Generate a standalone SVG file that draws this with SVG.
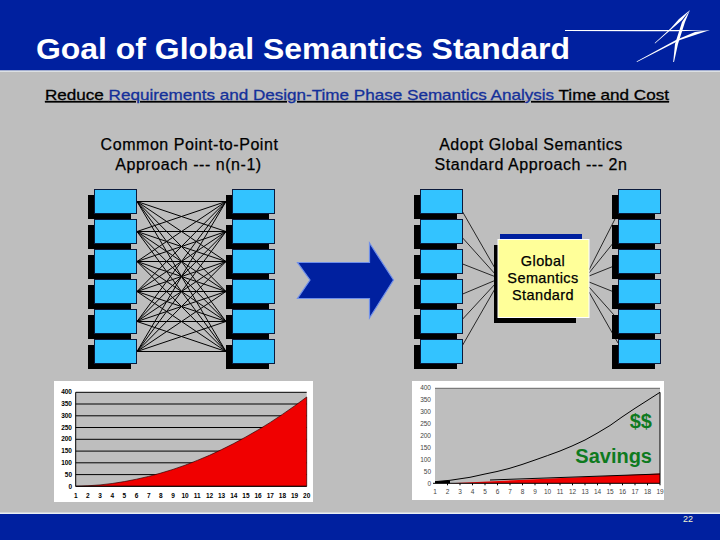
<svg xmlns="http://www.w3.org/2000/svg" width="720" height="540" viewBox="0 0 720 540">
<style>
text{font-family:"Liberation Sans",Arial,sans-serif}
.box{fill:#33C3FF;stroke:#0A1A3C;stroke-width:1}
.sh{fill:#000}
.c{stroke:#000;stroke-width:1;fill:none}
.hubl{stroke:#000;stroke-width:.8;fill:none}
.g{stroke:#000;stroke-width:1}
.h{font-size:16px;letter-spacing:.55px;fill:#000;text-anchor:middle;stroke:#000;stroke-width:.25}
.s{font-size:14.500px;letter-spacing:.4px;fill:#000;text-anchor:middle;stroke:#000;stroke-width:.25}
.t{font-size:6.5px;font-weight:bold;fill:#000;text-anchor:middle}
.y{font-size:6.5px;font-weight:bold;fill:#000;text-anchor:end}
.t2{font-size:6.5px;fill:#444;text-anchor:middle}
.y2{font-size:6.5px;fill:#444;text-anchor:end}
.sv{font-weight:bold;font-size:20px;fill:#0E7A1E;text-anchor:end}
</style>
<defs>
<g id="b"><rect class="sh" x="-6.500" y="5.500" width="43" height="24"/><rect class="box" x="0" y="0" width="42" height="24"/></g>
</defs>
<rect width="720" height="540" fill="#BEBEBE"/>
<rect width="720" height="70.500" fill="#00209F"/>
<rect y="70.500" width="720" height="1.200" fill="#E8EEF4"/>
<rect y="512.500" width="720" height="1.500" fill="#E8EEF4"/>
<rect y="514" width="720" height="26" fill="#00209F"/>
<text x="36" y="59" font-size="30" font-weight="bold" fill="#fff" textLength="534" lengthAdjust="spacingAndGlyphs">Goal of Global Semantics Standard</text>
<g id="logo" fill="#fff">
<polygon points="565,30 640,30 710,30 680,31.200 640,31.200 565,31"/>
<polygon points="690,10 682,20 655,43.500 654.700,43 671,28 679,19"/>
<polygon points="690,10 685,22 678,44 674,62 673.200,62 675,44 682,22"/>
<polygon points="710,30 680,40 637,62 636.500,61.400 676,40 695,32"/>
</g>
<text x="45" y="100" font-size="15" stroke="#000" stroke-width=".3" text-decoration="underline" textLength="624" lengthAdjust="spacingAndGlyphs">Reduce <tspan fill="#14309A" stroke="#14309A">Requirements and Design-Time Phase Semantics Analysis</tspan> Time and Cost</text>
<text class="h" x="189.500" y="150">Common Point-to-Point</text>
<text class="h" x="188.500" y="170">Approach --- n(n-1)</text>
<text class="h" x="531" y="150">Adopt Global Semantics</text>
<text class="h" x="531" y="170">Standard Approach --- 2n</text>

<g id="connectors">
<g id="mesh" class="c">
<path d="M137 201.500L226 201.500M137 201.500L226 231.500M137 201.500L226 261.500M137 201.500L226 291.500M137 201.500L226 321.500M137 201.500L226 351.500"/>
<path d="M137 231.500L226 201.500M137 231.500L226 231.500M137 231.500L226 261.500M137 231.500L226 291.500M137 231.500L226 321.500M137 231.500L226 351.500"/>
<path d="M137 261.500L226 201.500M137 261.500L226 231.500M137 261.500L226 261.500M137 261.500L226 291.500M137 261.500L226 321.500M137 261.500L226 351.500"/>
<path d="M137 291.500L226 201.500M137 291.500L226 231.500M137 291.500L226 261.500M137 291.500L226 291.500M137 291.500L226 321.500M137 291.500L226 351.500"/>
<path d="M137 321.500L226 201.500M137 321.500L226 231.500M137 321.500L226 261.500M137 321.500L226 291.500M137 321.500L226 321.500M137 321.500L226 351.500"/>
<path d="M137 351.500L226 201.500M137 351.500L226 231.500M137 351.500L226 261.500M137 351.500L226 291.500M137 351.500L226 321.500M137 351.500L226 351.500"/>
</g>
<g id="hub" class="hubl">
<path d="M462.700 212L496 270M462.700 238L496 275M462.700 264L496 277M462.700 294L496 280M462.700 319L496 283M462.700 345L496 287"/>
<path d="M589 270L615 219M589 273L614 242M589 276L614 266M589 282L614 292M589 287L614 315M589 292L618 343"/>
</g>
</g>

<g id="left-a"><use href="#b" x="94.500" y="189.500"/><use href="#b" x="94.500" y="219.500"/><use href="#b" x="94.500" y="249.500"/><use href="#b" x="94.500" y="279.500"/><use href="#b" x="94.500" y="309.500"/><use href="#b" x="94.500" y="339.500"/></g>
<g id="left-b"><use href="#b" x="232.500" y="189.500"/><use href="#b" x="232.500" y="219.500"/><use href="#b" x="232.500" y="249.500"/><use href="#b" x="232.500" y="279.500"/><use href="#b" x="232.500" y="309.500"/><use href="#b" x="232.500" y="339.500"/></g>
<g id="right-a"><use href="#b" x="420.500" y="189.500"/><use href="#b" x="420.500" y="219.500"/><use href="#b" x="420.500" y="249.500"/><use href="#b" x="420.500" y="279.500"/><use href="#b" x="420.500" y="309.500"/><use href="#b" x="420.500" y="339.500"/></g>
<g id="right-b"><use href="#b" x="618.500" y="189.500"/><use href="#b" x="618.500" y="219.500"/><use href="#b" x="618.500" y="249.500"/><use href="#b" x="618.500" y="279.500"/><use href="#b" x="618.500" y="309.500"/><use href="#b" x="618.500" y="339.500"/></g>

<g id="arrow"><polygon points="297.500,262.500 369.500,262.500 369.500,243 393.500,280 369.500,318 369.500,298.500 297.500,298.500 310,280" fill="#00209F" stroke="#6F8FEA" stroke-width="1.200"/></g>

<g id="standard">
<rect x="500" y="234" width="82" height="6" fill="#00209F"/>
<rect x="494" y="245" width="82" height="78" fill="#000"/>
<rect x="498" y="239.500" width="91" height="78" fill="#FFFF99" stroke="#fff" stroke-width="1"/>
<text class="s" x="543" y="266">Global</text>
<text class="s" x="543" y="283">Semantics</text>
<text class="s" x="543" y="300">Standard</text>
</g>

<g id="chart1">
<rect x="54" y="381" width="259" height="121" fill="#fff"/>
<rect x="75.700" y="392.300" width="231" height="94" fill="#BEBEBE"/>
<path class="g" d="M75.700 392.300H306.700M75.700 404H306.700M75.700 415.800H306.700M75.700 427.500H306.700M75.700 439.300H306.700M75.700 451.100H306.700M75.700 462.800H306.700M75.700 474.600H306.700"/>
<polygon points="75.700,486.300 87.900,485.800 100,484.900 112.200,483.500 124.300,481.600 136.500,479.200 148.700,476.400 160.800,473.100 173,469.400 185.100,465.200 197.300,460.400 209.500,455.300 221.600,449.600 233.800,443.500 245.900,436.900 258.100,429.900 270.300,422.400 282.400,414.400 294.600,405.900 306.700,397 306.700,486.300" fill="#F00000" stroke="#300" stroke-width=".7"/>
<path d="M75.700 392.300V486.300H306.700" stroke="#000" fill="none" stroke-width="1"/>
<text class="y" x="72" y="394">400</text><text class="y" x="72" y="406">350</text><text class="y" x="72" y="418">300</text><text class="y" x="72" y="430">250</text><text class="y" x="72" y="441">200</text><text class="y" x="72" y="453">150</text><text class="y" x="72" y="465">100</text><text class="y" x="72" y="477">50</text><text class="y" x="72" y="488.500">0</text>
<text class="t" x="75.700" y="498">1</text><text class="t" x="87.900" y="498">2</text><text class="t" x="100" y="498">3</text><text class="t" x="112.200" y="498">4</text><text class="t" x="124.300" y="498">5</text><text class="t" x="136.500" y="498">6</text><text class="t" x="148.700" y="498">7</text><text class="t" x="160.800" y="498">8</text><text class="t" x="173" y="498">9</text><text class="t" x="185.100" y="498">10</text><text class="t" x="197.300" y="498">11</text><text class="t" x="209.500" y="498">12</text><text class="t" x="221.600" y="498">13</text><text class="t" x="233.800" y="498">14</text><text class="t" x="245.900" y="498">15</text><text class="t" x="258.100" y="498">16</text><text class="t" x="270.300" y="498">17</text><text class="t" x="282.400" y="498">18</text><text class="t" x="294.600" y="498">19</text><text class="t" x="306.700" y="498">20</text>
</g>

<g id="chart2">
<rect x="412" y="381" width="252" height="119" fill="#fff"/>
<rect x="435" y="388.300" width="225" height="95" fill="#BEBEBE"/>
<path d="M435 388.300H660" stroke="#666" stroke-width="1"/>
<polygon points="450,483.300 660,473.500 660,483.300" fill="#F00000" stroke="none"/>
<path d="M490 480L660 474" stroke="#000" stroke-width="1" fill="none"/>
<path d="M435 481.500L450 480.500V483.300H435Z" fill="#000"/>
<polyline points="435,481.700 450,480.300 470,477.300 485,474 497,471.500 509,468.500 522,464.500 535,460 547.700,455.500 560,451 572,446 585,440 597,433.300 610,425.500 622,417 635,408.300 648,400 660,392.300 660,483.300" stroke="#000" stroke-width="1" fill="none"/>
<path d="M433 483.300H660M447.500 483.300v2M460 483.300v2M472.500 483.300v2M485 483.300v2M497.500 483.300v2M510 483.300v2M522.500 483.300v2M535 483.300v2M547.500 483.300v2M560 483.300v2M572.500 483.300v2M585 483.300v2M597.500 483.300v2M610 483.300v2M622.500 483.300v2M635 483.300v2M647.500 483.300v2M660 483.300v2" stroke="#000" stroke-width="1" fill="none"/>
<text class="y2" x="431" y="390">400</text><text class="y2" x="431" y="402">350</text><text class="y2" x="431" y="414">300</text><text class="y2" x="431" y="426">250</text><text class="y2" x="431" y="438">200</text><text class="y2" x="431" y="450">150</text><text class="y2" x="431" y="462">100</text><text class="y2" x="431" y="473.500">50</text><text class="y2" x="431" y="485.500">0</text>
<text class="t2" x="435" y="494">1</text><text class="t2" x="447.500" y="494">2</text><text class="t2" x="460" y="494">3</text><text class="t2" x="472.500" y="494">4</text><text class="t2" x="485" y="494">5</text><text class="t2" x="497.500" y="494">6</text><text class="t2" x="510" y="494">7</text><text class="t2" x="522.500" y="494">8</text><text class="t2" x="535" y="494">9</text><text class="t2" x="547.500" y="494">10</text><text class="t2" x="560" y="494">11</text><text class="t2" x="572.500" y="494">12</text><text class="t2" x="585" y="494">13</text><text class="t2" x="597.500" y="494">14</text><text class="t2" x="610" y="494">15</text><text class="t2" x="622.500" y="494">16</text><text class="t2" x="635" y="494">17</text><text class="t2" x="647.500" y="494">18</text><text class="t2" x="660" y="494">19</text>
<text class="sv" x="652" y="428">$$</text>
<text class="sv" x="652" y="463">Savings</text>
</g>
<text x="688" y="522" font-size="9" text-anchor="middle" fill="#F4F4D0">22</text>
</svg>
